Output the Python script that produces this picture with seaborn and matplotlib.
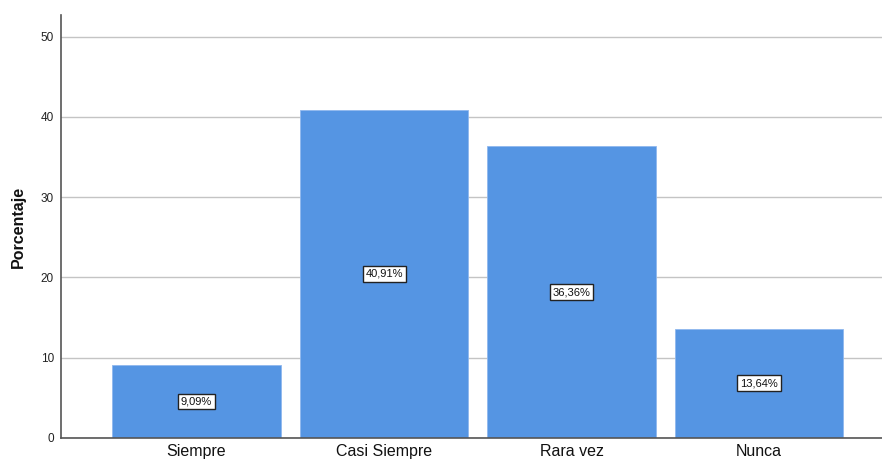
import matplotlib
matplotlib.use("Agg")
import matplotlib.pyplot as plt
import seaborn as sns
import pandas as pd

categories = ["Siempre", "Casi Siempre", "Rara vez", "Nunca"]
values = [9.09, 40.91, 36.36, 13.64]
labels = ["9,09%", "40,91%", "36,36%", "13,64%"]
yticks = [0, 10, 20, 30, 40, 50]

sns.set_style("white")
plt.rcParams['font.family'] = ['Liberation Sans', 'DejaVu Sans']

df = pd.DataFrame({"cat": categories, "val": values})

fig = plt.figure(figsize=(8.82, 4.62), dpi=100)
ax = fig.add_axes([61/882, 24/462, 1 - 61/882, 423/462])
ax.set_axisbelow(True)
ax.yaxis.grid(True, color="#c4c4c4", linewidth=1)

sns.barplot(data=df, x="cat", y="val", color="#5595e3", saturation=1,
            width=0.9, edgecolor="#8fb8ee", linewidth=0.6, ax=ax)

for i, (v, lab) in enumerate(zip(values, labels)):
    ax.text(i, v / 2, lab, ha="center", va="center", fontsize=8,
            color="#111111",
            bbox=dict(boxstyle="square,pad=0.25", facecolor="white",
                      edgecolor="#222222", linewidth=1))

ax.set_xlim(-0.723, 3.656)
ax.set_ylim(0, 52.7)
ax.set_yticks(yticks)
ax.set_yticklabels([str(t) for t in yticks], fontsize=8.5, color="#222222")
ax.tick_params(axis="x", labelsize=11.5, length=0, pad=4, colors="#111111")
ax.tick_params(axis="y", length=0, pad=5)
ax.set_xlabel("")
ax.set_ylabel("Porcentaje", fontsize=11.5, fontweight="bold", labelpad=11,
              color="#111111")

for s in ["top", "right"]:
    ax.spines[s].set_visible(False)
for s in ["left", "bottom"]:
    ax.spines[s].set_color("#555555")
    ax.spines[s].set_linewidth(1.2)

fig.savefig("out.png", dpi=100)
